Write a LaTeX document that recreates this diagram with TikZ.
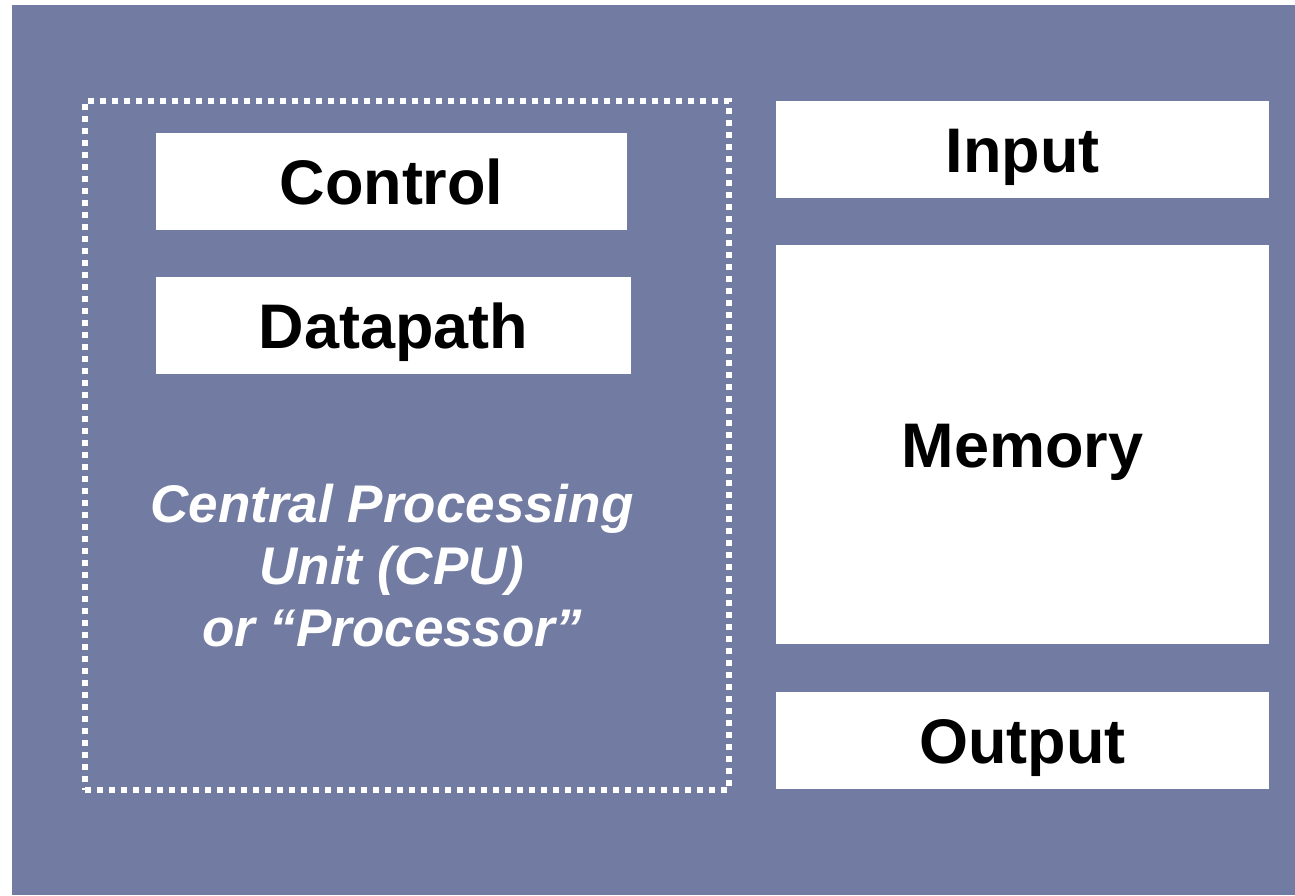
\documentclass[tikz,border=0pt]{standalone}
\usepackage{fontspec}
\setmainfont{Liberation Sans}
\definecolor{bg}{RGB}{114,123,161}
\begin{document}
\begin{tikzpicture}[x=1pt,y=-1pt,
  unit/.style={fill=white, inner sep=0pt, outer sep=0pt, anchor=north west,
    font=\fontsize{63}{70}\selectfont\bfseries, text height=45pt, text depth=0pt},
  cpubox/.style={draw=white, line width=6pt, dash pattern=on 6pt off 6pt,
    inner sep=0pt, outer sep=0pt, anchor=north west},
  cpulabel/.style={text=white, align=center, inner sep=0pt,
    font=\fontsize{53}{62}\selectfont\bfseries\itshape}]
\useasboundingbox (0,0) rectangle (1295,895);
\fill[bg] (12,5) rectangle (1295,895);
\node[cpubox, minimum width=644pt, minimum height=689pt] (cpu) at (85,101) {};
\node[unit, minimum width=471pt, minimum height=97pt] (ctrl) at (156,133) {Control};
\node[unit, minimum width=475pt, minimum height=97pt] (dp) at (156,277) {Datapath};
\node[unit, minimum width=493pt, minimum height=97pt] (in) at (776,101) {Input};
\node[unit, minimum width=493pt, minimum height=399pt] (mem) at (776,245) {Memory};
\node[unit, minimum width=493pt, minimum height=97pt] (out) at (776,692) {Output};
\node[cpulabel] (cpult) at (392,566) {Central Processing\\Unit (CPU)\\or “Processor”};
\end{tikzpicture}
\end{document}
